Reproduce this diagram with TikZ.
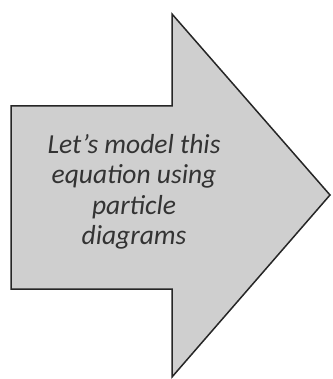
\documentclass[tikz,border=0pt]{standalone}
\usepackage{fontspec}
\setmainfont{Carlito}
\begin{document}
\begin{tikzpicture}[x=1pt,y=-1pt,
  arrowshape/.style={draw=black!85, line width=1.5pt, line join=miter, fill=black!19},
  label/.style={align=center, font=\fontsize{27.5}{30.5}\selectfont\itshape, text=black!80}]
\useasboundingbox (0,0) rectangle (332,379);
\path[arrowshape] (11,106) -- (172,106) -- (172,14) -- (330,195) -- (172,377) -- (172,289) -- (11,289) -- cycle;
\node[label] (t) at (134,192) {Let’s model this\\equation using\\particle\\diagrams};
\end{tikzpicture}
\end{document}
